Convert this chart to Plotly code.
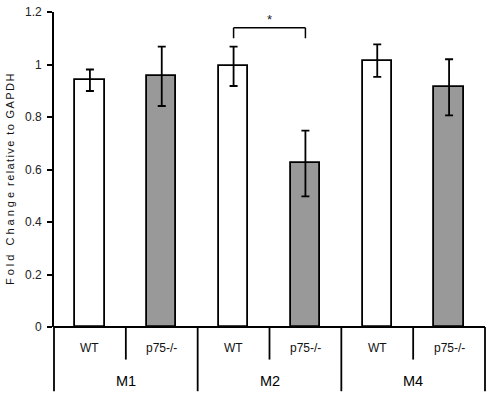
import plotly.graph_objects as go

groups = ["M1", "M2", "M4"]
genotypes = ["WT", "p75-/-"]
values = [0.94, 0.955, 0.993, 0.623, 1.015, 0.913]
errors = [0.041, 0.113, 0.075, 0.125, 0.062, 0.107]
fill_colors = ["#ffffff", "#999999", "#ffffff", "#999999", "#ffffff", "#999999"]
y_ticks = [0, 0.2, 0.4, 0.6, 0.8, 1.0, 1.2]
y_ticklabels = ["0", "0.2", "0.4", "0.6", "0.8", "1", "1.2"]
sig_pair = [2, 3]
sig_y = [1.10, 1.14]

n = len(values)
xs = list(range(n))
FONT = "Liberation Sans, Arial, sans-serif"

fig = go.Figure()
fig.add_trace(go.Bar(
    x=xs, y=values, width=0.41,
    marker=dict(color=fill_colors, line=dict(color="black", width=1.8)),
    error_y=dict(type="data", array=errors, visible=True, color="black",
                 thickness=1.8, width=4),
    showlegend=False, hoverinfo="skip",
))

shapes = []
# sub-category dividers (short) and group dividers (long) below the axis
for k in range(n + 1):
    xp = k / n
    y0 = -0.2038 if k % 2 == 0 else -0.1034
    shapes.append(dict(type="line", xref="paper", yref="paper", x0=xp, x1=xp,
                       y0=y0, y1=0, line=dict(color="black", width=1.8)))
# x axis baseline
shapes.append(dict(type="line", xref="paper", yref="paper", x0=0, x1=1, y0=0, y1=0,
                   line=dict(color="black", width=1.8)))
# significance bracket
for xv in sig_pair:
    shapes.append(dict(type="line", xref="x", yref="y", x0=xv, x1=xv,
                       y0=sig_y[0], y1=sig_y[1], line=dict(color="black", width=1.5)))
shapes.append(dict(type="line", xref="x", yref="y", x0=sig_pair[0], x1=sig_pair[1],
                   y0=sig_y[1], y1=sig_y[1], line=dict(color="black", width=1.5)))

annotations = []
for i in range(n):
    annotations.append(dict(x=(i + 0.5) / n, y=-0.0658, xref="paper", yref="paper",
                            text=genotypes[i % 2], showarrow=False,
                            xanchor="center", yanchor="middle",
                            font=dict(size=12, color="#111111", family=FONT)))
for g, name in enumerate(groups):
    annotations.append(dict(x=(2 * g + 1) / n, y=-0.1724, xref="paper", yref="paper",
                            text=name, showarrow=False,
                            xanchor="center", yanchor="middle",
                            font=dict(size=14.5, color="black", family=FONT)))
annotations.append(dict(x=(sig_pair[0] + sig_pair[1]) / 2, y=sig_y[1], xref="x", yref="y",
                        text="*", showarrow=False, yanchor="bottom", yshift=-1,
                        font=dict(size=13, color="#222222", family=FONT)))
annotations.append(dict(
    x=-0.102, y=0.47, xref="paper", yref="paper", textangle=-90, showarrow=False,
    xanchor="center", yanchor="middle",
    text='<span style="letter-spacing:3px">Fold Change</span> '
         '<span style="letter-spacing:1.4px">relative to GAPDH</span>',
    font=dict(size=11, color="#111111", family=FONT)))

fig.update_layout(
    width=490, height=397,
    margin=dict(l=54, r=5, t=8, b=70),
    plot_bgcolor="white", paper_bgcolor="white",
    font=dict(family=FONT, size=11, color="black"),
    shapes=shapes, annotations=annotations,
    bargap=0, hovermode=False,
)
fig.update_xaxes(range=[-0.5, n - 0.5], showticklabels=False, showgrid=False,
                 zeroline=False, showline=False, ticks="")
fig.update_yaxes(range=[0, 1.2], tickvals=y_ticks, ticktext=y_ticklabels,
                 showgrid=False, zeroline=False, showline=True, linecolor="black",
                 linewidth=1.8, ticks="outside", ticklen=5, tickwidth=1.5,
                 tickcolor="black", ticklabelstandoff=3,
                 tickfont=dict(size=12, color="#222222"))

fig.write_html("out.html", config={"displayModeBar": False},
               post_script="document.body.style.margin='0';document.body.style.padding='0';"
                           "document.documentElement.style.overflow='hidden';")
